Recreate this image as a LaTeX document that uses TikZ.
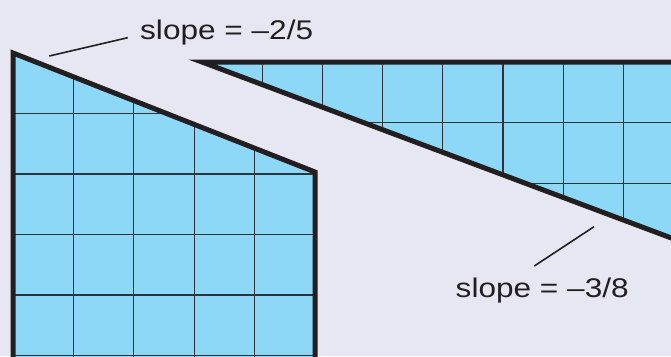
\documentclass[tikz,border=0pt]{standalone}
\usepackage{fontspec}
\setmainfont{Liberation Sans}
\definecolor{bg}{HTML}{E7E7F3}
\definecolor{tile}{HTML}{8CD8F6}
\definecolor{ink}{HTML}{231F20}
\definecolor{gridc}{HTML}{2E3338}
\tikzset{
  outline/.style={draw=ink, line width=5pt, line join=miter},
  gridline/.style={draw=gridc, line width=1.3pt},
  leader/.style={draw=ink, line width=1.6pt},
  lbl/.style={inner sep=0pt, anchor=base west, text=ink, font=\fontsize{27}{27}\selectfont}
}
\begin{document}
\begin{tikzpicture}[x=1pt,y=-1pt]
\clip (0,0) rectangle (671,356);
\fill[bg] (0,0) rectangle (671,356);
% left shape
\fill[tile] (13,53) -- (315,172) -- (315,380) -- (13,380) -- cycle;
\begin{scope}
  \clip (13,53) -- (315,172) -- (315,380) -- (13,380) -- cycle;
  \foreach \k in {1,...,4} { \draw[gridline] (13+60.4*\k,40) -- (13+60.4*\k,380); }
  \foreach \y in {113.5,174,234.5,295,355.5} { \draw[gridline] (0,\y) -- (330,\y); }
\end{scope}
\draw[outline] (13,380) -- (13,53) -- (315,172) -- (315,380);
% right shape
\fill[tile] (202,62) -- (720,62) -- (720,256.25) -- cycle;
\begin{scope}
  \clip (202,62) -- (720,62) -- (720,256.25) -- cycle;
  \foreach \k in {1,...,8} { \draw[gridline] (202+60.2*\k,50) -- (202+60.2*\k,300); }
  \foreach \y in {122.8,183.4,244} { \draw[gridline] (190,\y) -- (720,\y); }
\end{scope}
\draw[outline] (720,62) -- (202,62) -- (720,256.25);
% labels
\node[lbl] (l1) at (140,39.3) {\scalebox{1.17}[1]{slope = –2/5}};
\node[lbl] (l2) at (455.5,297.3) {\scalebox{1.17}[1]{slope = –3/8}};
\coordinate (a1) at (49.3,56);
\coordinate (b1) at (127.7,37.7);
\coordinate (a2) at (594,226.7);
\coordinate (b2) at (534.3,266);
\draw[leader] (a1) -- (b1);
\draw[leader] (a2) -- (b2);
\end{tikzpicture}
\end{document}
